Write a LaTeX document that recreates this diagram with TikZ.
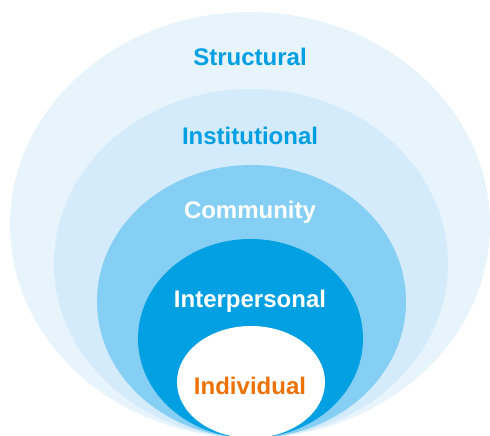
\documentclass[tikz,border=0pt]{standalone}
\usepackage{fontspec}
\setmainfont{Liberation Sans}
\usetikzlibrary{positioning}

\definecolor{ringA}{HTML}{E8F4FC}
\definecolor{ringB}{HTML}{D3EBFA}
\definecolor{ringC}{HTML}{85CFF4}
\definecolor{ringD}{HTML}{00A0E2}
\definecolor{labelblue}{HTML}{009FE3}
\definecolor{labelorange}{HTML}{EE7203}

\begin{document}
\begin{tikzpicture}[x=1pt,y=-1pt]
\useasboundingbox (0,0) rectangle (490,436);
% Draw nested levels
   \begin{scope}[ level/.style={anchor=base,font=\fontsize{24}{28}\selectfont\bfseries} ]
     \fill [ringA] (250,225)   ellipse [x radius=240pt, y radius=213pt];
     \fill [ringB] (251,263.5) ellipse [x radius=197pt, y radius=174.5pt];
     \fill [ringC] (251.5,301.5) ellipse [x radius=154.5pt, y radius=136.5pt];
     \fill [ringD] (250.5,338.5) ellipse [x radius=112.5pt, y radius=99.5pt];
     \fill [white] (251,382)   ellipse [x radius=74pt, y radius=56pt];
     \node [level,text=labelblue]   (structural)    at (250,66)  {Structural};
     \node [level,text=labelblue]   (institutional) at (250,144) {Institutional};
     \node [level,text=white]       (community)     at (250,218) {Community};
     \node [level,text=white]       (interpersonal) at (250,307) {Interpersonal};
     \node [level,text=labelorange] (individual)    at (250,394) {Individual};
   \end{scope}
\end{tikzpicture}
\end{document}
